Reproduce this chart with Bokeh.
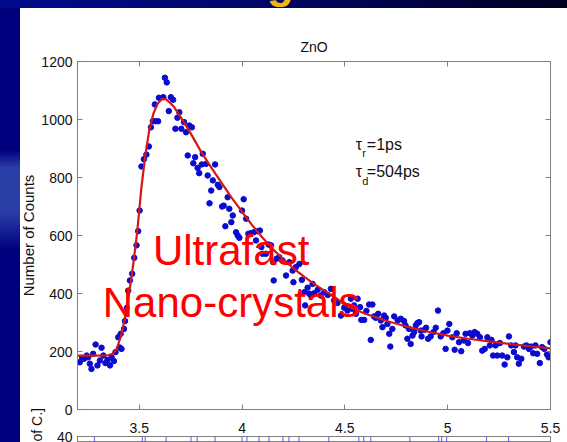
from bokeh.plotting import figure
from bokeh.models import Range1d, FixedTicker, Label, LinearAxis, Div
from bokeh.layouts import column
from bokeh.embed import file_html
from bokeh.resources import INLINE

# ---------------- data ----------------
title_text = "ZnO"
y_label = "Number of Counts"
x_ticks = [3.5, 4, 4.5, 5, 5.5]
x_tick_labels = ["3.5", "4", "4.5", "5", "5.5"]
y_ticks = [0, 200, 400, 600, 800, 1000, 1200]

data_x = [3.211, 3.222, 3.232, 3.245, 3.252, 3.260, 3.268, 3.276, 3.288, 3.297,
          3.309, 3.317, 3.326, 3.336, 3.346, 3.358, 3.366, 3.377, 3.385, 3.398,
          3.405, 3.410, 3.414, 3.426, 3.431, 3.440, 3.447, 3.455, 3.466, 3.476,
          3.487, 3.495, 3.502, 3.511, 3.523, 3.535, 3.547, 3.557, 3.566, 3.576,
          3.579, 3.592, 3.596, 3.617, 3.625, 3.634, 3.644, 3.654, 3.665, 3.676,
          3.686, 3.695, 3.705, 3.718, 3.728, 3.736, 3.744, 3.756, 3.763, 3.772,
          3.784, 3.792, 3.804, 3.809, 3.825, 3.833, 3.842, 3.850, 3.858, 3.869,
          3.882, 3.890, 3.903, 3.911, 3.919, 3.930, 3.938, 3.948, 3.955, 3.971,
          3.979, 3.987, 4.000, 4.008, 4.020, 4.031, 4.044, 4.057, 4.068, 4.076,
          4.087, 4.094, 4.100, 4.116, 4.129, 4.141, 4.152, 4.154, 4.168, 4.181,
          4.197, 4.214, 4.230, 4.246, 4.250, 4.262, 4.279, 4.291, 4.302, 4.307,
          4.319, 4.327, 4.335, 4.343, 4.351, 4.368, 4.383, 4.400, 4.417, 4.432,
          4.448, 4.464, 4.481, 4.497, 4.513, 4.529, 4.537, 4.545, 4.554, 4.562,
          4.574, 4.580, 4.594, 4.605, 4.618, 4.626, 4.634, 4.642, 4.650, 4.662,
          4.675, 4.683, 4.691, 4.699, 4.707, 4.716, 4.721, 4.731, 4.740, 4.757,
          4.772, 4.788, 4.795, 4.804, 4.812, 4.820, 4.829, 4.837, 4.845, 4.853,
          4.861, 4.869, 4.873, 4.888, 4.895, 4.905, 4.917, 4.931, 4.942, 4.953,
          4.966, 4.979, 4.990, 4.999, 5.008, 5.023, 5.034, 5.044, 5.055, 5.066,
          5.079, 5.087, 5.099, 5.108, 5.120, 5.131, 5.144, 5.157, 5.168, 5.180,
          5.193, 5.205, 5.213, 5.221, 5.233, 5.241, 5.254, 5.265, 5.277, 5.290,
          5.298, 5.309, 5.322, 5.330, 5.338, 5.346, 5.358, 5.371, 5.383, 5.395,
          5.406, 5.416, 5.427, 5.435, 5.448, 5.459, 5.470, 5.483, 5.491, 5.500]
data_y = [163, 178, 175, 186, 180, 158, 140, 192, 224, 152,
          169, 213, 186, 160, 171, 152, 180, 167, 198, 249,
          214, 261, 209, 278, 305, 350, 410, 445, 468, 523,
          566, 615, 686, 838, 863, 879, 907, 973, 994, 1052,
          994, 994, 1075, 1077, 1144, 1128, 1029, 1077, 1068, 968,
          1006, 1025, 968, 991, 956, 876, 979, 973, 849, 870,
          833, 815, 845, 882, 847, 807, 711, 755, 790, 845,
          775, 767, 700, 703, 632, 732, 692, 646, 669, 611,
          600, 592, 686, 725, 658, 606, 608, 611, 583, 615,
          617, 560, 537, 537, 569, 566, 508, 445, 520, 525,
          514, 462, 508, 479, 439, 491, 502, 447, 404, 359,
          420, 399, 393, 433, 401, 413, 393, 404, 395, 416,
          376, 367, 324, 351, 341, 382, 347, 359, 330, 382,
          353, 309, 309, 340, 362, 240, 362, 321, 316, 330,
          307, 284, 324, 316, 295, 261, 217, 278, 321, 307,
          313, 305, 290, 244, 278, 226, 255, 267, 290, 298,
          301, 272, 252, 275, 282, 244, 252, 267, 282, 341,
          252, 263, 209, 272, 295, 249, 206, 263, 232, 201,
          238, 261, 229, 263, 255, 267, 261, 249, 203, 209,
          249, 221, 240, 186, 221, 186, 229, 186, 155, 180,
          252, 221, 198, 221, 180, 158, 175, 217, 221, 209,
          217, 194, 221, 192, 160, 215, 209, 190, 180, 232]

fit_x = [3.20, 3.25, 3.30, 3.35, 3.37, 3.39, 3.41, 3.43, 3.45, 3.47,
         3.49, 3.51, 3.53, 3.55, 3.57, 3.59, 3.61, 3.63, 3.65, 3.67,
         3.70, 3.74, 3.80, 3.85, 3.90, 3.95, 4.00, 4.05, 4.10, 4.15,
         4.20, 4.25, 4.30, 4.35, 4.40, 4.45, 4.50, 4.55, 4.60, 4.65,
         4.70, 4.80, 4.90, 5.00, 5.10, 5.20, 5.30, 5.40, 5.50]
fit_y = [186, 186, 186, 187, 192, 208, 250, 312, 395, 495,
         610, 760, 878, 968, 1022, 1055, 1070, 1070, 1058, 1043,
         1010, 965, 890, 835, 782, 730, 682, 635, 592, 553,
         518, 487, 459, 433, 410, 388, 362, 344, 330, 318,
         306, 286, 269, 255, 244, 235, 226, 218, 211]

# residual panel (below, cut by the window): spikes reaching its top value of 40
resid_label = "[No. of C.]"
resid_ticks = [40]
resid_x = [3.282, 3.515, 3.529, 3.631, 3.752, 3.782, 3.869, 4.000, 4.024, 4.083,
           4.131, 4.199, 4.228, 4.277, 4.422, 4.568, 4.592, 4.626, 4.816, 4.956,
           4.971, 4.995, 5.189, 5.296]
resid_top = [40] * len(resid_x)
resid_base = [0] * len(resid_x)

GRAY = "#7f7f7f"
NAVY = "#00007e"
FONT = "Liberation Sans"
INK = "#111111"


def style_axis(ax, font_size="14px"):
    ax.major_tick_in = 5
    ax.major_tick_out = 0
    ax.minor_tick_in = 0
    ax.minor_tick_out = 0
    ax.axis_line_color = GRAY
    ax.major_tick_line_color = GRAY
    ax.major_label_text_font = FONT
    ax.major_label_text_font_size = font_size
    ax.major_label_text_color = INK


def mirror_axis(ticks):
    ax = LinearAxis(ticker=FixedTicker(ticks=ticks),
                    major_label_overrides={t: "" for t in ticks},
                    major_label_standoff=0)
    style_axis(ax)
    return ax


# ---- top strip of the slide (with the bottom of a yellow title letter) ----
top = Div(text='<div style="position:relative;left:267px;top:-39px;line-height:44px;'
               'font-family:\'Liberation Sans\';font-weight:bold;font-size:44px;'
               'color:#f2b705;">g</div>',
          width=567, height=8, margin=(0, 0, 0, 0),
          styles={"overflow": "hidden",
                  "background": "linear-gradient(to right, #000c8c 0%, #00066a 45%, #000020 100%)"})

# ---- main chart ----
p = figure(width=567, height=428, x_range=Range1d(3.2, 5.5), y_range=Range1d(0, 1200),
           output_backend="svg", toolbar_location=None, title=title_text,
           min_border_left=77, min_border_right=17, min_border_top=53, min_border_bottom=27,
           margin=(0, 0, 0, 0))
p.background_fill_color = "white"
p.border_fill_color = None
p.outline_line_color = GRAY
p.styles = {"background": (
    "linear-gradient(#ffffff,#ffffff) 20px 0px / 547px 428px no-repeat, "
    "linear-gradient(to bottom, rgba(0,0,128,0) 142px, #2a3ea8 160px, #2a3ea8 204px, rgba(0,0,128,0) 242px) 0px 0px / 20px 428px no-repeat, "
    + NAVY)}
p.xgrid.visible = False
p.ygrid.visible = False

p.title.text_font = FONT
p.title.text_font_size = "14px"
p.title.text_font_style = "normal"
p.title.text_color = INK
p.title.align = "center"
p.title.standoff = 14

xa = p.xaxis[0]
xa.ticker = FixedTicker(ticks=x_ticks)
xa.major_label_overrides = {t: s for t, s in zip(x_ticks, x_tick_labels)}
xa.major_label_standoff = 13
ya = p.yaxis[0]
ya.ticker = FixedTicker(ticks=y_ticks)
ya.axis_label = y_label
ya.axis_label_standoff = 1
ya.axis_label_text_font = FONT
ya.axis_label_text_font_size = "15px"
ya.axis_label_text_font_style = "normal"
ya.axis_label_text_color = INK
style_axis(xa)
style_axis(ya)
p.add_layout(mirror_axis(x_ticks), "above")
p.add_layout(mirror_axis(y_ticks), "right")

p.scatter(data_x, data_y, size=5.5, color="#0b0bd0")
p.line(fit_x, fit_y, color="#d41818", line_width=2.2)

# tau annotations
for (sym, sub, rest, yb, ys) in (("\u03c4", "r", "=1ps", 914, 885), ("\u03c4", "d", "=504ps", 821, 788)):
    p.add_layout(Label(x=4.553, y=yb, text=sym, text_font=FONT, text_font_size="16px",
                       text_color=INK, text_baseline="alphabetic"))
    p.add_layout(Label(x=4.585, y=ys, text=sub, text_font=FONT, text_font_size="11px",
                       text_color=INK, text_baseline="alphabetic"))
    p.add_layout(Label(x=4.607, y=yb, text=rest, text_font=FONT, text_font_size="16px",
                       text_color=INK, text_baseline="alphabetic"))

# slide overlay text
for txt, yb in (("Ultrafast", 549), ("Nano-crystals", 369)):
    p.add_layout(Label(x=3.947, y=yb, text=txt, text_font=FONT, text_font_size="42px",
                       text_color="#ff0000", text_align="center", text_baseline="alphabetic"))

# ---- lower residual panel, overlapping the main chart's bottom margin ----
p2 = figure(width=567, height=38, x_range=Range1d(3.2, 5.5), y_range=Range1d(35.2, 40),
            output_backend="svg", toolbar_location=None, x_axis_location=None,
            min_border_left=77, min_border_right=17, min_border_top=32, min_border_bottom=0,
            margin=(-32, 0, 0, 0))
p2.background_fill_color = "white"
p2.border_fill_color = None
p2.outline_line_color = GRAY
p2.styles = {"background": "linear-gradient(%s,%s) 0px 0px / 20px 38px no-repeat" % (NAVY, NAVY)}
p2.xgrid.visible = False
p2.ygrid.visible = False
ra = p2.yaxis[0]
ra.ticker = FixedTicker(ticks=resid_ticks)
ra.axis_label = resid_label
ra.axis_label_standoff = 9
ra.axis_label_text_font = FONT
ra.axis_label_text_font_size = "14px"
ra.axis_label_text_font_style = "normal"
ra.axis_label_text_color = INK
style_axis(ra)
p2.add_layout(mirror_axis(resid_ticks), "right")
p2.segment(x0=resid_x, y0=resid_base, x1=resid_x, y1=resid_top,
           line_color="#5a5ad8", line_width=1)

layout = column(top, p, p2, spacing=0)
open("out.html", "w").write(file_html(layout, INLINE))
